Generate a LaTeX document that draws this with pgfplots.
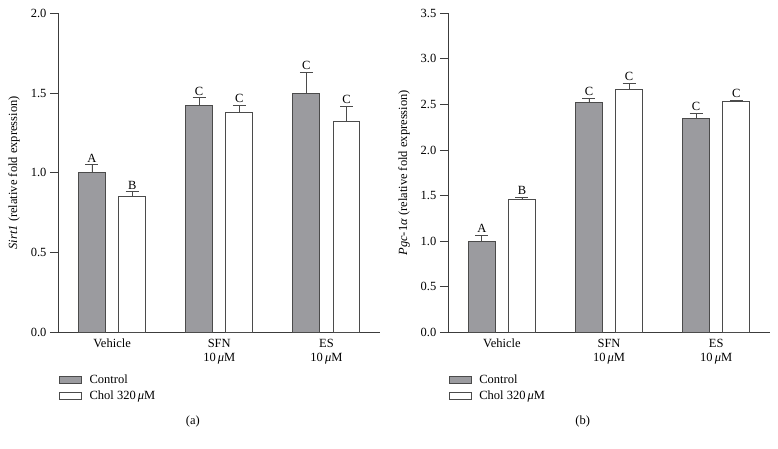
\documentclass[border=0pt]{standalone}
\usepackage{fontspec}
\setmainfont{Liberation Serif}
\usepackage{pgfplots}
\pgfplotsset{compat=1.18}
\definecolor{barfill}{RGB}{155,155,159}
\definecolor{edge}{RGB}{75,75,75}
\definecolor{axcol}{RGB}{60,60,60}
\newcommand{\lfont}{\fontsize{12.5}{14}\selectfont}
\tikzset{lett/.style={anchor=south, inner sep=2.5pt, font=\lfont}}
\pgfplotsset{
 panel/.style={
  scale only axis, width=321.5pt, height=319pt,
  anchor=south west, clip=false,
  xmin=-0.5, xmax=2.5, ymin=0,
  axis x line*=bottom, axis y line*=left,
  axis line style={axcol, line width=0.9pt},
  xtick={0,1,2},
  xticklabels={Vehicle,{SFN\\10\,\textit{μ}M},{ES\\10\,\textit{μ}M}},
  xticklabel style={align=center, font=\lfont, yshift=-3pt},
  x tick style={draw=none},
  ytick align=outside, major tick length=8.5pt,
  y tick style={axcol, line width=0.9pt},
  yticklabel style={font=\lfont, /pgf/number format/fixed, /pgf/number format/fixed zerofill, /pgf/number format/precision=1},
  /pgf/number format/assume math mode=true,
  ylabel style={at={(axis description cs:-0.138,0.5)}, anchor=center, font=\lfont},
  xlabel style={at={(axis description cs:0.418,-0.281)}, anchor=center, font=\lfont},
  legend style={at={(0,-0.126)}, anchor=north west, draw=none, fill=none, inner sep=0pt, row sep=2pt, font=\lfont},
  legend cell align=left,
  error bars/y dir=plus, error bars/y explicit,
  error bars/error bar style={edge, line width=0.9pt},
  error bars/error mark options={edge, line width=0.9pt, mark size=6.5pt, rotate=90},
 },
 ctrl/.style={ybar, bar width=0.25, bar shift=0, fill=barfill, draw=edge, line width=0.9pt,
  legend image code/.code={\draw[fill=barfill,draw=edge,line width=0.9pt] (2pt,-3.5pt) rectangle (24pt,3.5pt); \path (30pt,0pt);}},
 chol/.style={ybar, bar width=0.25, bar shift=0, fill=white, draw=edge, line width=0.9pt,
  legend image code/.code={\draw[fill=white,draw=edge,line width=0.9pt] (2pt,-3.5pt) rectangle (24pt,3.5pt); \path (30pt,0pt);}},
}
\begin{document}
\begin{tikzpicture}
\useasboundingbox (0pt,-448pt) rectangle (778pt,0pt);
% Panel (a)
\begin{axis}[panel, at={(58.5pt,-332.3pt)}, ymax=2.0, ytick={0,0.5,1.0,1.5,2.0},
  ylabel={\textit{Sirt1} (relative fold expression)}, xlabel={(a)}]
\addplot[ctrl] coordinates {(-0.1875,1.00) +- (0,0.05) (0.8125,1.42) +- (0,0.05) (1.8125,1.50) +- (0,0.13)};
\addlegendentry{Control}
\addplot[chol] coordinates {(0.1875,0.85) +- (0,0.03) (1.1875,1.38) +- (0,0.04) (2.1875,1.32) +- (0,0.095)};
\addlegendentry{Chol 320\,\textit{μ}M}
\node[lett] at (axis cs:-0.1875,1.05) {A};
\node[lett] at (axis cs:0.1875,0.88) {B};
\node[lett] at (axis cs:0.8125,1.47) {C};
\node[lett] at (axis cs:1.1875,1.42) {C};
\node[lett] at (axis cs:1.8125,1.63) {C};
\node[lett] at (axis cs:2.1875,1.415) {C};
\end{axis}
% Panel (b)
\begin{axis}[panel, at={(448.3pt,-332.3pt)}, ymax=3.5, ytick={0,0.5,1.0,1.5,2.0,2.5,3.0,3.5},
  ylabel={\textit{Pgc}-1\textit{α} (relative fold expression)}, xlabel={(b)}]
\addplot[ctrl] coordinates {(-0.1875,1.00) +- (0,0.065) (0.8125,2.52) +- (0,0.05) (1.8125,2.35) +- (0,0.05)};
\addlegendentry{Control}
\addplot[chol] coordinates {(0.1875,1.46) +- (0,0.02) (1.1875,2.66) +- (0,0.07) (2.1875,2.53) +- (0,0.018)};
\addlegendentry{Chol 320\,\textit{μ}M}
\node[lett] at (axis cs:-0.1875,1.065) {A};
\node[lett] at (axis cs:0.1875,1.48) {B};
\node[lett] at (axis cs:0.8125,2.57) {C};
\node[lett] at (axis cs:1.1875,2.73) {C};
\node[lett] at (axis cs:1.8125,2.40) {C};
\node[lett] at (axis cs:2.1875,2.548) {C};
\end{axis}
\end{tikzpicture}
\end{document}
